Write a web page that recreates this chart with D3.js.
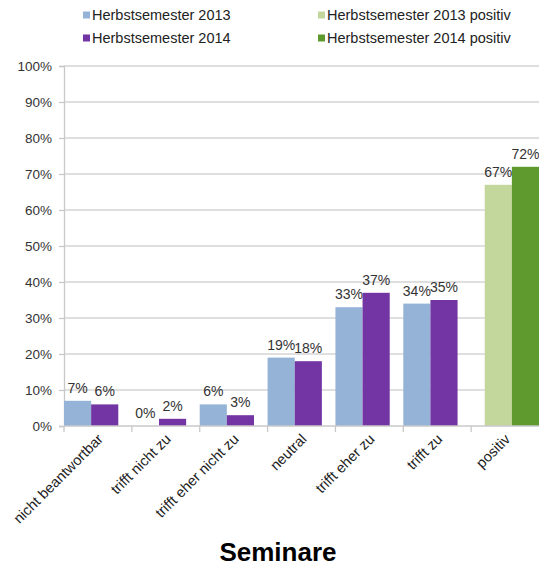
<!DOCTYPE html>
<html>
<head>
<meta charset="utf-8">
<script src="https://cdn.jsdelivr.net/npm/d3@7/dist/d3.min.js"></script>
<style>
  html, body { margin: 0; padding: 0; background: #fff; }
  text { font-family: "Liberation Sans", Arial, sans-serif; }
</style>
</head>
<body>
<svg id="chart" width="539" height="570"></svg>
<script>
// Answer categories of the seminar evaluation
const categories = ["nicht beantwortbar", "trifft nicht zu", "trifft eher nicht zu", "neutral", "trifft eher zu", "trifft zu", "positiv"];
const answerCats = categories.slice(0, 6);
// Shares in percent per semester
const hs2013 = [7, 0, 6, 19, 33, 34];
const hs2014 = [6, 2, 3, 18, 37, 35];
const hs2013Positiv = [67];
const hs2014Positiv = [72];
const yTicks = [0, 10, 20, 30, 40, 50, 60, 70, 80, 90, 100];

const seriesNames = ["Herbstsemester 2013", "Herbstsemester 2014", "Herbstsemester 2013 positiv", "Herbstsemester 2014 positiv"];
const colors = ["#95b3d7", "#7335a3", "#c3d69b", "#5f9a2e"];

const svg = d3.select("#chart");
const plotL = 64, plotR = 539, plotT = 66, plotB = 426;

const x = d3.scaleBand().domain(categories).range([plotL, plotR]).paddingInner(0).paddingOuter(0);
const y = d3.scaleLinear().domain([0, 100]).range([plotB, plotT]);
const step = x.bandwidth();
// pair of bars: answer groups sit at the band's left, the "positiv" pair at its right
const pairLeft = d3.scaleBand().domain([0, 1]).range([0, step * 0.8]);
const pairRight = d3.scaleBand().domain([0, 1]).range([step * 0.2, step]);

// gridlines
svg.append("g").selectAll("line").data(yTicks.filter(t => t > 0)).join("line")
  .attr("x1", plotL).attr("x2", plotR)
  .attr("y1", d => y(d)).attr("y2", d => y(d))
  .attr("stroke", "#d4d4d4").attr("stroke-width", 1.3);

// y axis
const yAxis = svg.append("g").attr("transform", `translate(${plotL},0)`)
  .call(d3.axisLeft(y).tickValues(yTicks).tickFormat(d => d + "%").tickSize(5).tickPadding(7));
yAxis.select(".domain").attr("stroke", "#c8c8c8").attr("stroke-width", 1.3);
yAxis.selectAll(".tick line").attr("stroke", "#c8c8c8").attr("stroke-width", 1.3);
yAxis.selectAll(".tick text").attr("font-size", 13.5).attr("fill", "#333")
  .attr("font-family", "'Liberation Sans', Arial, sans-serif");

// bars
const bars = [];
answerCats.forEach((c, i) => {
  bars.push({ cat: c, v: hs2013[i], s: 0, sub: pairLeft(0) });
  bars.push({ cat: c, v: hs2014[i], s: 1, sub: pairLeft(1) });
});
bars.push({ cat: "positiv", v: hs2013Positiv[0], s: 2, sub: pairRight(0) });
bars.push({ cat: "positiv", v: hs2014Positiv[0], s: 3, sub: pairRight(1) });
const bw = pairLeft.bandwidth();

svg.append("g").selectAll("rect").data(bars).join("rect")
  .attr("x", d => x(d.cat) + d.sub)
  .attr("y", d => y(d.v))
  .attr("width", bw)
  .attr("height", d => plotB - y(d.v))
  .attr("fill", d => colors[d.s]);

// x axis baseline and ticks
const xAxis = svg.append("g").attr("transform", `translate(0,${plotB})`);
xAxis.append("line").attr("x1", plotL).attr("x2", plotR).attr("y1", 0).attr("y2", 0)
  .attr("stroke", "#c8c8c8").attr("stroke-width", 1.3);
xAxis.selectAll("line.tk").data(categories).join("line").attr("class", "tk")
  .attr("x1", d => x(d)).attr("x2", d => x(d)).attr("y1", 0).attr("y2", 6)
  .attr("stroke", "#c8c8c8").attr("stroke-width", 1.3);
xAxis.selectAll("text").data(categories).join("text")
  .attr("transform", d => `translate(${x(d) + step / 2 + 6},${14}) rotate(-45)`)
  .attr("text-anchor", "end")
  .attr("font-size", 14.5).attr("fill", "#222")
  .text(d => d);

// value labels
svg.append("g").selectAll("text").data(bars).join("text")
  .attr("x", d => x(d.cat) + d.sub + bw / 2)
  .attr("y", d => y(d.v) - 8)
  .attr("text-anchor", "middle")
  .attr("font-size", 14).attr("fill", "#333")
  .text(d => d.v + "%");

// legend
const legendPos = [[83, 15], [83, 38], [318, 15], [318, 38]];
const lg = svg.append("g").selectAll("g").data(seriesNames).join("g")
  .attr("transform", (d, i) => `translate(${legendPos[i][0]},${legendPos[i][1]})`);
lg.append("rect").attr("x", 0).attr("y", -3.5).attr("width", 7).attr("height", 7)
  .attr("fill", (d, i) => colors[i]);
lg.append("text").attr("x", 9).attr("y", 5).attr("font-size", 14.5).attr("fill", "#222")
  .text(d => d);

// title
svg.append("text").attr("x", 278).attr("y", 561).attr("text-anchor", "middle")
  .attr("font-size", 26).attr("font-weight", "bold").attr("fill", "#000")
  .text("Seminare");
</script>
</body>
</html>
